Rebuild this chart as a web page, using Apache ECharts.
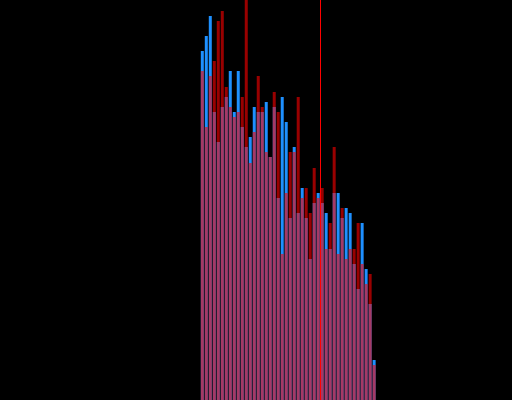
<!DOCTYPE html>
<html>
<head>
<meta charset="utf-8">
<title>bars</title>
<script src="https://cdn.jsdelivr.net/npm/echarts@6/dist/echarts.min.js"></script>
<style>
  html, body { margin: 0; padding: 0; background: #000; }
  #chart { width: 512px; height: 400px; }
</style>
</head>
<body>
<div id="chart"></div>
<script>
// first bin that has data, the axis runs over 128 bins
const binStart = 50
const binCount = 128
// value where the red marker line sits
const markerAt = 80

const blueValues = [349, 364, 384, 288, 258, 293, 303, 329, 288, 329, 273, 253, 263, 293, 288,
  288, 298, 243, 293, 202, 303, 278, 182, 253, 187, 212, 182, 141, 197, 207, 197, 187, 151,
  207, 207, 182, 192, 187, 136, 111, 177, 131, 96, 40]
const redValues = [329, 273, 324, 339, 379, 389, 313, 293, 283, 288, 303, 420, 237, 268, 324,
  293, 248, 243, 308, 288, 146, 207, 248, 248, 303, 202, 212, 187, 232, 202, 212, 151, 177,
  253, 146, 192, 141, 151, 151, 177, 136, 116, 126, 35]

// bar sits in the middle of its bin
const toPoints = (vals) => vals.map((v, i) => [binStart + i + 0.5, v])

const chart = echarts.init(document.getElementById('chart'))
chart.setOption({
  animation: false,
  backgroundColor: '#000',
  grid: { left: 0.5, top: 0, width: 512, height: 400 },
  xAxis: { type: 'value', min: 0, max: binCount, show: false },
  yAxis: { type: 'value', min: 0, max: 400, show: false },
  series: [
    {
      type: 'bar',
      data: toPoints(blueValues),
      barWidth: 3,
      itemStyle: { color: '#1e90ff' }
    },
    {
      type: 'bar',
      data: toPoints(redValues),
      barWidth: 3,
      barGap: '-100%',
      itemStyle: { color: '#ff0000', opacity: 0.6 },
      markLine: {
        silent: true,
        symbol: 'none',
        label: { show: false },
        lineStyle: { color: '#ff0000', width: 1, type: 'solid', opacity: 1 },
        data: [{ xAxis: markerAt }]
      }
    }
  ]
})
</script>
</body>
</html>
